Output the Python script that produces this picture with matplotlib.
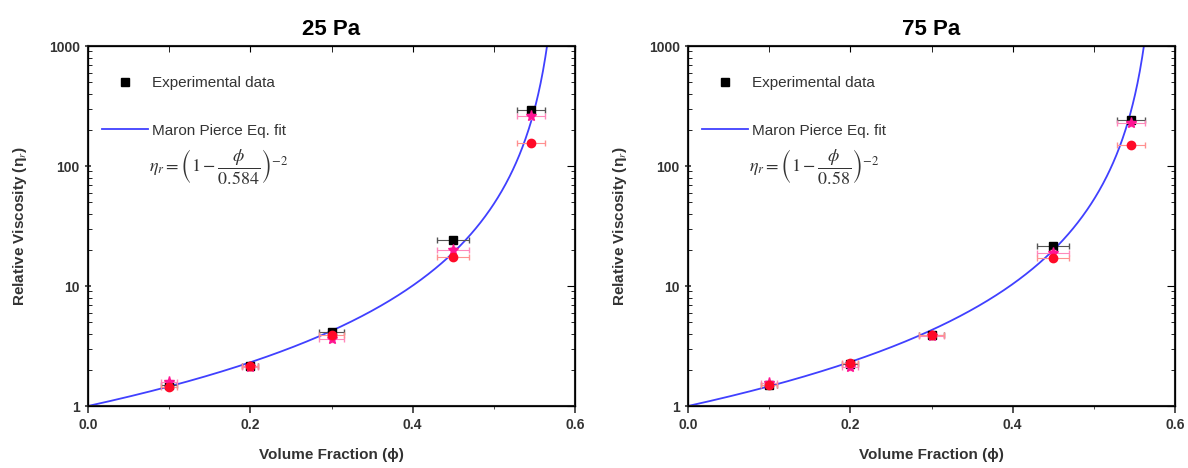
import matplotlib.pyplot as plt
from matplotlib.lines import Line2D
import numpy as np

# volume fractions measured
phi = [0.1, 0.2, 0.3, 0.45, 0.546]
phi_err = [0.01, 0.01, 0.015, 0.02, 0.017]

titles = ['25 Pa', '75 Pa']
phi_max = [0.584, 0.58]

# relative viscosity (black squares, magenta stars, red circles)
black = [[1.5, 2.15, 4.1, 24, 295], [1.5, 2.25, 3.9, 21.5, 240]]
magenta = [[1.58, 2.1, 3.6, 20, 260], [1.55, 2.1, 3.8, 19, 228]]
red = [[1.45, 2.15, 3.9, 17.5, 155], [1.5, 2.3, 3.9, 17, 150]]

plt.rcParams['font.family'] = ['Liberation Sans', 'DejaVu Sans']
plt.rcParams['mathtext.fontset'] = 'stix'

fig = plt.figure(figsize=(11.88, 4.68), dpi=100)
lefts = [88 / 1188, 688 / 1188]
w = 487 / 1188
b = (468 - 406) / 468
h = 360 / 468

for i in range(2):
    ax = fig.add_axes([lefts[i], b, w, h])
    x = np.linspace(0, phi_max[i] - 1e-4, 600)
    x = x[x < 0.6]
    ax.plot(x, (1 - x / phi_max[i]) ** -2, color='#4040ff', lw=1.3, zorder=2)
    ax.errorbar(phi, black[i], xerr=phi_err, yerr=np.array(black[i]) * 0.04, fmt='s',
                color='black', ms=6, ecolor='#555555', elinewidth=0.8, capsize=2, zorder=3)
    ax.errorbar(phi, magenta[i], xerr=phi_err, yerr=np.array(magenta[i]) * 0.05, fmt='*',
                color='#ff1493', ms=8, ecolor='#ff88bb', elinewidth=0.8, capsize=2, zorder=4)
    ax.errorbar(phi, red[i], xerr=phi_err, yerr=np.array(red[i]) * 0.04, fmt='o',
                color='#ff0a28', ms=6, ecolor='#ff9090', elinewidth=0.8, capsize=2, zorder=5)

    ax.set_yscale('log')
    ax.set_xlim(0, 0.6)
    ax.set_ylim(1, 1000)
    ax.set_xticks([0, 0.2, 0.4, 0.6])
    ax.set_xticks([0.1, 0.3, 0.5], minor=True)
    ax.set_xticklabels(['0.0', '0.2', '0.4', '0.6'])
    ax.set_yticks([1, 10, 100, 1000])
    ax.set_yticklabels(['1', '10', '100', '1000'])
    ax.tick_params(axis='x', which='both', direction='out', labelsize=10, colors='#333333')
    ax.tick_params(axis='y', which='major', direction='inout', length=8, labelsize=10,
                   colors='#333333')
    ax.tick_params(axis='y', which='minor', direction='in', length=3)
    ax.tick_params(which='major', length=5, width=1.2)
    for lab in ax.get_xticklabels() + ax.get_yticklabels():
        lab.set_fontweight('bold')
    for s in ax.spines.values():
        s.set_linewidth(1.5)
        s.set_color('#222222')

    # mirrored axes with inward ticks on top and right
    axt = ax.twiny()
    axt.set_xlim(0, 0.6)
    axt.set_xticks([0, 0.2, 0.4, 0.6])
    axt.set_xticks([0.1, 0.3, 0.5], minor=True)
    axt.tick_params(axis='x', which='both', direction='in', labeltop=False, length=4)
    axr = ax.twinx()
    axr.set_yscale('log')
    axr.set_ylim(1, 1000)
    axr.tick_params(axis='y', which='major', direction='in', labelright=False, length=6)
    axr.tick_params(axis='y', which='minor', direction='in', length=3)

    ax.set_title(titles[i], fontsize=16, fontweight='bold', pad=8)
    ax.set_xlabel('Volume Fraction (ϕ)', fontsize=11, fontweight='bold', color='#333333',
                  labelpad=12)
    ax.set_ylabel('Relative Viscosity (η$_r$)', fontsize=11, fontweight='bold', color='#333333',
                  labelpad=14)

    handles = [Line2D([], [], ls='none', marker='s', color='black', ms=6),
               Line2D([], [], color='#4040ff', lw=1.3)]
    leg = ax.legend(handles, ['Experimental data', 'Maron Pierce Eq. fit'], loc='upper left',
                    bbox_to_anchor=(0.0, 0.955), frameon=False, fontsize=11,
                    handlelength=3, labelspacing=2.2, handletextpad=0.3)
    for t in leg.get_texts():
        t.set_color('#333333')
    ax.text(0.125, 0.665, r'$\eta_r=\left(1-\dfrac{\phi}{%s}\right)^{-2}$' % phi_max[i],
            transform=ax.transAxes, fontsize=13, va='center', color='#333333')

fig.savefig('out.png', dpi=100)
